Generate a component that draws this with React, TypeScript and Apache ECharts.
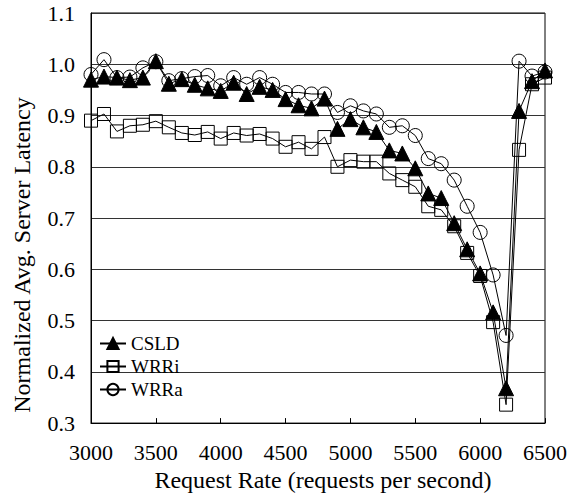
import React, { useEffect, useRef } from "react";
import * as echarts from "echarts";

const rates = [3000,3100,3200,3300,3400,3500,3600,3700,3800,3900,4000,4100,4200,4300,4400,4500,4600,4700,4800,4900,5000,5100,5200,5300,5400,5500,5600,5700,5800,5900,6000,6100,6200,6300,6400,6500];

const csld = [0.970,0.976,0.974,0.969,0.974,1.006,0.962,0.971,0.960,0.953,0.948,0.964,0.942,0.956,0.950,0.932,0.920,0.914,0.933,0.874,0.893,0.877,0.868,0.832,0.826,0.797,0.748,0.739,0.690,0.639,0.592,0.516,0.368,0.909,0.967,0.988];

const wrri = [0.890,0.903,0.869,0.880,0.882,0.889,0.877,0.866,0.862,0.868,0.855,0.866,0.861,0.864,0.855,0.839,0.848,0.835,0.858,0.800,0.813,0.810,0.810,0.787,0.774,0.761,0.723,0.716,0.684,0.632,0.587,0.497,0.336,0.833,0.961,0.974];

const wrra = [0.980,1.009,0.974,0.975,0.993,1.005,0.968,0.972,0.976,0.978,0.958,0.974,0.961,0.974,0.961,0.945,0.945,0.942,0.942,0.906,0.919,0.909,0.903,0.877,0.880,0.861,0.816,0.806,0.774,0.723,0.672,0.589,0.471,1.006,0.977,0.985];

const xTicks = { min: 3000, max: 6500, interval: 500 };
const yTicks = { min: 0.3, max: 1.1, interval: 0.1 };

const xTitle = "Request Rate (requests per second)";
const yTitle = "Normalized Avg. Server Latency";

const FONT = "'Liberation Serif', 'Times New Roman', serif";

export default function App() {
  const ref = useRef<HTMLDivElement>(null);
  useEffect(() => {
    if (!ref.current) return;
    const chart = echarts.init(ref.current, undefined, { renderer: "svg" });
    const mk = (vals: number[]) => rates.map((r, i) => [r, vals[i]]);
    const base = (name: string, vals: number[], symbol: string, size: number, filled: boolean, z: number) => ({
      name,
      type: "line",
      data: mk(vals),
      symbol,
      symbolSize: size,
      showAllSymbol: true,
      z,
      lineStyle: { color: "#000", width: 1 },
      itemStyle: filled
        ? { color: "#000", borderColor: "#000", borderWidth: 1 }
        : { color: "rgba(255,255,255,0)", borderColor: "#000", borderWidth: 1 },
      emphasis: { disabled: true },
    });
    chart.setOption({
      animation: false,
      backgroundColor: "#fff",
      grid: {
        left: 91,
        right: 31,
        top: 13,
        bottom: 70,
        show: true,
        borderColor: "#000",
        borderWidth: 1,
        backgroundColor: "transparent",
      },
      legend: {
        orient: "vertical",
        left: 94,
        top: 329,
        itemWidth: 26,
        itemHeight: 14,
        itemGap: 4,
        data: ["CSLD", "WRRi", "WRRa"],
        textStyle: { fontFamily: FONT, fontSize: 19, color: "#000" },
      },
      graphic: [
        {
          type: "text",
          x: 22,
          y: 255,
          rotation: Math.PI / 2,
          style: {
            text: yTitle,
            font: `24px ${FONT}`,
            fill: "#000",
            align: "center",
            verticalAlign: "middle",
          },
        },
      ],
      xAxis: {
        type: "value",
        min: xTicks.min,
        max: xTicks.max,
        interval: xTicks.interval,
        name: xTitle,
        nameLocation: "middle",
        nameGap: 44,
        nameTextStyle: { fontFamily: FONT, fontSize: 24, color: "#000", padding: [0, 0, 0, 10] },
        axisLine: { show: true, lineStyle: { color: "#000", width: 1 } },
        axisTick: { show: true, inside: true, length: 5, lineStyle: { color: "#000" } },
        axisLabel: {
          fontFamily: FONT,
          fontSize: 22,
          color: "#000",
          margin: 18,
          formatter: (v: number) => String(v),
        },
        splitLine: { show: false },
      },
      yAxis: {
        type: "value",
        min: yTicks.min,
        max: yTicks.max,
        interval: yTicks.interval,
        axisLine: { show: true, lineStyle: { color: "#000", width: 1 } },
        axisTick: { show: false },
        axisLabel: {
          fontFamily: FONT,
          fontSize: 22,
          color: "#000",
          margin: 16,
          formatter: (v: number) => v.toFixed(1),
        },
        splitLine: { show: true, lineStyle: { color: "#333", width: 1 } },
      },
      series: [
        base("WRRa", wrra, "circle", 14, false, 2),
        base("WRRi", wrri, "rect", 13, false, 3),
        base("CSLD", csld, "triangle", 15, true, 4),
      ],
    });
    return () => chart.dispose();
  }, []);
  return <div ref={ref} style={{ width: 576, height: 497, position: "absolute", left: 0, top: 0 }} />;
}
